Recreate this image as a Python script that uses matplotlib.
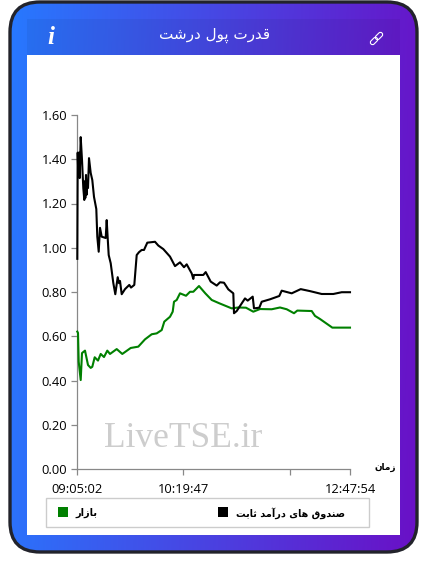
import numpy as np
import matplotlib
matplotlib.use("Agg")
import matplotlib.pyplot as plt
from matplotlib.patches import FancyBboxPatch, Rectangle
from matplotlib.colors import LinearSegmentedColormap

# ---------- data ----------
title_text = "قدرت پول درشت"
series_black_name = "صندوق های درآمد ثابت"
series_green_name = "بازار"
x_axis_name = "زمان"
watermark = "LiveTSE.ir"
y_ticks = [0.0, 0.2, 0.4, 0.6, 0.8, 1.0, 1.2, 1.4, 1.6]
x_tick_pos = [0, 106, 213, 273]
x_tick_labels = ["09:05:02", "10:19:47", "", "12:47:54"]

black_x = [0.3, 0.7, 1.3, 2, 2.7, 3.7, 5, 6.3, 7.3, 7.7, 8.3, 9, 9.7, 10.3, 11, 12, 13.7, 15.3, 17, 19.3,
           20.3, 21.7, 23, 24.7, 28.7, 29.7, 30.7, 31.7, 33.7, 36.3, 38.3, 40.7, 42, 43, 44.7, 48, 52.3,
           54, 57.3, 59.7, 62, 64.7, 67, 70.3, 78, 81.3, 86.3, 93, 98, 103, 107, 109.7, 114.7, 116.3, 117,
           126.3, 128.7, 133.7, 139.7, 143, 147, 151.3, 156.3, 157, 159.7, 168, 170.7, 175.7, 177, 182.3,
           184.7, 193, 202.3, 204.7, 214.7, 223.7, 233, 244.7, 256.3, 264.7, 273]
black_y = [0.95, 1.43, 1.33, 1.43, 1.315, 1.50, 1.397, 1.27, 1.216, 1.30, 1.225, 1.329, 1.24, 1.30, 1.27, 1.405,
           1.338, 1.306, 1.23, 1.175, 1.05, 0.982, 1.09, 1.05, 1.044, 1.125, 1.043, 0.967, 0.93, 0.841,
           0.79, 0.867, 0.84, 0.85, 0.79, 0.813, 0.832, 0.82, 0.832, 0.967, 0.98, 0.99, 0.99, 1.023, 1.027,
           1.01, 0.994, 0.96, 0.917, 0.934, 0.912, 0.925, 0.884, 0.859, 0.877, 0.877, 0.89, 0.847, 0.829,
           0.844, 0.842, 0.812, 0.794, 0.704, 0.714, 0.771, 0.761, 0.779, 0.726, 0.729, 0.756, 0.767, 0.782,
           0.806, 0.794, 0.813, 0.804, 0.791, 0.791, 0.799, 0.799]

green_x = [0.3, 1, 1.7, 3.7, 5, 8, 11, 13.7, 15.3, 17.7, 21, 23.7, 27, 30.3, 33, 39.7, 45.3, 53.7, 61.3, 68, 74.7,
           79.7, 84.7, 87.3, 93, 95.7, 97, 99.7, 103, 109, 113, 116.3, 122, 128.3, 134.7, 142.3, 154.7, 161.3,
           169, 176.3, 183, 194.7, 203, 209.7, 217, 220.3, 234.7, 238, 243, 255.3, 273]
green_y = [0.621, 0.615, 0.485, 0.402, 0.524, 0.535, 0.47, 0.457, 0.462, 0.505, 0.49, 0.52, 0.506, 0.535, 0.52,
           0.542, 0.52, 0.547, 0.553, 0.586, 0.609, 0.613, 0.628, 0.666, 0.688, 0.711, 0.756, 0.764, 0.794,
           0.783, 0.801, 0.801, 0.827, 0.794, 0.764, 0.749, 0.726, 0.73, 0.729, 0.711, 0.723, 0.722, 0.73,
           0.722, 0.704, 0.716, 0.714, 0.692, 0.678, 0.639, 0.639]
green_x = green_x[:len(green_y)]

# ---------- Arabic shaping (matplotlib does not join or reorder) ----------
FORMS = {
    "ق": (0xFED5, 0xFED6, 0xFED7, 0xFED8), "د": (0xFEA9, 0xFEAA, None, None),
    "ر": (0xFEAD, 0xFEAE, None, None), "ت": (0xFE95, 0xFE96, 0xFE97, 0xFE98),
    "پ": (0xFB56, 0xFB57, 0xFB58, 0xFB59), "و": (0xFEED, 0xFEEE, None, None),
    "ل": (0xFEDD, 0xFEDE, 0xFEDF, 0xFEE0), "ش": (0xFEB5, 0xFEB6, 0xFEB7, 0xFEB8),
    "ص": (0xFEB9, 0xFEBA, 0xFEBB, 0xFEBC), "ن": (0xFEE5, 0xFEE6, 0xFEE7, 0xFEE8),
    "ه": (0xFEE9, 0xFEEA, 0xFEEB, 0xFEEC), "ا": (0xFE8D, 0xFE8E, None, None),
    "ی": (0xFBFC, 0xFBFD, 0xFBFE, 0xFBFF), "آ": (0xFE81, 0xFE82, None, None),
    "م": (0xFEE1, 0xFEE2, 0xFEE3, 0xFEE4), "ث": (0xFE99, 0xFE9A, 0xFE9B, 0xFE9C),
    "ب": (0xFE8F, 0xFE90, 0xFE91, 0xFE92), "ز": (0xFEAF, 0xFEB0, None, None),
}


def shape(s):
    out = []
    for i, c in enumerate(s):
        if c not in FORMS:
            out.append(c)
            continue
        f = FORMS[c]
        prev = s[i - 1] if i > 0 else " "
        nxt = s[i + 1] if i + 1 < len(s) else " "
        join_prev = prev in FORMS and FORMS[prev][2] is not None
        join_next = nxt in FORMS and f[2] is not None
        if join_prev and join_next:
            k = 3
        elif join_prev:
            k = 1
        elif join_next:
            k = 2
        else:
            k = 0
        out.append(chr(f[k]))
    return "".join(reversed(out))


# ---------- figure ----------
W, H = 427, 574
fig = plt.figure(figsize=(W / 100, H / 100), dpi=100, facecolor="white")
bg = fig.add_axes([0, 0, 1, 1])
bg.set_xlim(0, W)
bg.set_ylim(H, 0)
bg.axis("off")

cmap = LinearSegmentedColormap.from_list("g", ["#2779ff", "#6a10c6"])
xx, yy = np.meshgrid(np.linspace(0, 1, 300), np.linspace(0, 1, 300))
im = bg.imshow(0.93 * xx + 0.07 * yy, extent=[9, 418, 552, 1], cmap=cmap, vmin=0, vmax=1, aspect="auto", zorder=1)
clip = FancyBboxPatch((10, 2), 407, 550, boxstyle="round,pad=0,rounding_size=30", transform=bg.transData,
                      fc="none", ec="none")
bg.add_patch(clip)
im.set_clip_path(clip)
bg.add_patch(FancyBboxPatch((10, 2), 407, 550, boxstyle="round,pad=0,rounding_size=30",
                            fc="none", ec="#22232b", lw=2.4, zorder=3))
bg.add_patch(Rectangle((27, 19), 373, 36, fc="black", alpha=0.05, ec="none", zorder=2))
bg.add_patch(Rectangle((27, 55), 373, 480, fc="white", ec="none", zorder=2))

bg.text(214.5, 35, shape(title_text), color="white", fontsize=10.9, ha="center", va="center",
        family="DejaVu Sans", zorder=4)
bg.text(51, 37, "i", color="white", fontsize=18, ha="center", va="center", family="Liberation Serif",
        style="italic", weight="bold", zorder=4)
# link icon
for cx, cy in [(374, 41), (379, 36)]:
    bg.add_patch(FancyBboxPatch((cx - 2.2, cy - 4.2), 4.4, 8.4, boxstyle="round,pad=0,rounding_size=2.2",
                                fc="none", ec="white", lw=0.8, zorder=4,
                                transform=matplotlib.transforms.Affine2D().rotate_deg_around(cx, cy, 45) + bg.transData))

# legend box
bg.add_patch(Rectangle((46, 497.5), 323, 29, fc="white", ec="#cccccc", lw=1, zorder=3))
bg.add_patch(Rectangle((58, 507), 10, 10, fc="#008000", ec="none", zorder=4))
bg.add_patch(Rectangle((218, 507), 10, 10, fc="black", ec="none", zorder=4))
bg.text(86, 513, shape(series_green_name), fontsize=7, weight="bold", ha="center", va="center",
        family="DejaVu Sans", zorder=4)
bg.text(291, 513, shape(series_black_name), fontsize=6.9, weight="bold", ha="center", va="center",
        family="DejaVu Sans", zorder=4)
bg.text(385, 467, shape(x_axis_name), fontsize=6.4, weight="bold", ha="center", va="center",
        family="DejaVu Sans", zorder=4)

# main plot
L, R, T, B = 77, 350, 115, 469
ax = fig.add_axes([L / W, 1 - B / H, (R - L) / W, (B - T) / H], facecolor="none", zorder=5)
ax.set_xlim(0, 273)
ax.set_ylim(0, 1.6)
ax.text(0.39, 0.04, watermark, transform=ax.transAxes, color="#cdcdcd", fontsize=25.5, family="Liberation Serif",
        ha="center", va="bottom", zorder=1)
ax.plot(green_x, green_y, color="#008000", lw=1.5, solid_joinstyle="round", clip_on=False, zorder=3)
ax.plot(black_x, black_y, color="black", lw=1.5, solid_joinstyle="round", clip_on=False, zorder=4)
for s in ("top", "right"):
    ax.spines[s].set_visible(False)
for s in ("left", "bottom"):
    ax.spines[s].set_color("#888888")
    ax.spines[s].set_linewidth(0.9)
ax.set_yticks(y_ticks)
ax.set_yticklabels([f"{v:.2f}" for v in y_ticks], family="Open Sans", fontsize=9.3)
ax.set_xticks(x_tick_pos)
ax.set_xticklabels(x_tick_labels, family="Open Sans", fontsize=9.3)
ax.tick_params(axis="both", color="#888888", length=4, width=0.9, pad=3)
ax.tick_params(axis="x", pad=6)

fig.savefig("out.png", dpi=100)
